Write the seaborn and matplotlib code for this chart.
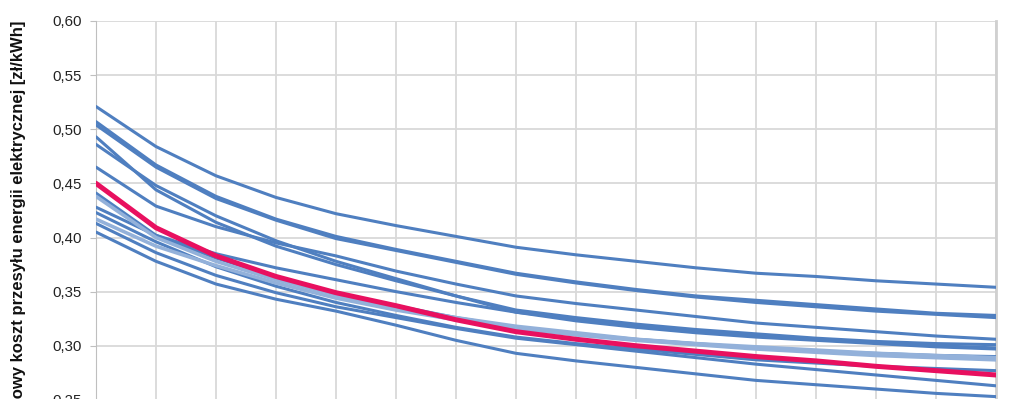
import pandas as pd
import matplotlib
matplotlib.use("Agg")
import matplotlib.pyplot as plt
import seaborn as sns

# lata (os X jest ucieta na obrazku)
lata = [2016, 2017, 2018, 2019, 2020, 2021, 2022, 2023,
        2024, 2025, 2026, 2027, 2028, 2029, 2030, 2031]

# warianty - koszt przesylu [zl/kWh]
w_a = [0.521, 0.484, 0.457, 0.437, 0.422, 0.411, 0.401, 0.391, 0.384, 0.378, 0.372, 0.367, 0.364, 0.360, 0.357, 0.354]
w_b1 = [0.507, 0.467, 0.438, 0.417, 0.401, 0.389, 0.378, 0.367, 0.359, 0.352, 0.346, 0.342, 0.338, 0.334, 0.330, 0.328]
w_b2 = [0.504, 0.465, 0.436, 0.416, 0.399, 0.388, 0.377, 0.366, 0.358, 0.351, 0.345, 0.340, 0.336, 0.332, 0.329, 0.326]
w_c = [0.493, 0.444, 0.414, 0.392, 0.375, 0.360, 0.346, 0.333, 0.326, 0.320, 0.315, 0.311, 0.307, 0.304, 0.302, 0.301]
w_d = [0.486, 0.448, 0.420, 0.397, 0.378, 0.362, 0.346, 0.331, 0.323, 0.317, 0.312, 0.308, 0.305, 0.302, 0.299, 0.297]
w_e = [0.465, 0.429, 0.410, 0.395, 0.383, 0.369, 0.357, 0.346, 0.339, 0.333, 0.327, 0.321, 0.317, 0.313, 0.309, 0.306]
w_f = [0.441, 0.402, 0.381, 0.364, 0.349, 0.337, 0.326, 0.317, 0.311, 0.306, 0.302, 0.298, 0.295, 0.293, 0.291, 0.290]
w_g = [0.428, 0.402, 0.385, 0.372, 0.361, 0.350, 0.340, 0.331, 0.325, 0.319, 0.314, 0.309, 0.306, 0.303, 0.300, 0.298]
w_h = [0.423, 0.396, 0.373, 0.355, 0.340, 0.328, 0.317, 0.308, 0.302, 0.297, 0.292, 0.287, 0.284, 0.281, 0.279, 0.277]
w_i = [0.413, 0.386, 0.365, 0.349, 0.336, 0.326, 0.316, 0.307, 0.301, 0.295, 0.289, 0.283, 0.278, 0.273, 0.268, 0.263]
w_j = [0.405, 0.378, 0.357, 0.343, 0.332, 0.319, 0.305, 0.293, 0.286, 0.280, 0.274, 0.268, 0.264, 0.260, 0.256, 0.253]
w_lt1 = [0.438, 0.400, 0.378, 0.361, 0.347, 0.335, 0.326, 0.318, 0.312, 0.306, 0.302, 0.299, 0.296, 0.293, 0.291, 0.289]
w_lt2 = [0.417, 0.392, 0.374, 0.358, 0.344, 0.333, 0.324, 0.316, 0.310, 0.305, 0.301, 0.297, 0.294, 0.291, 0.289, 0.287]
w_sr = [0.450, 0.409, 0.383, 0.364, 0.349, 0.337, 0.324, 0.313, 0.306, 0.300, 0.295, 0.290, 0.286, 0.281, 0.277, 0.273]

niebieskie = [w_a, w_b1, w_b2, w_c, w_d, w_e, w_f, w_g, w_h, w_i, w_j]
jasne = [w_lt1, w_lt2]

sns.set_style("white")
plt.rcParams['font.family'] = ['Liberation Sans', 'DejaVu Sans']

fig = plt.figure(figsize=(10.24, 3.99), dpi=100)
ax = fig.add_axes([96 / 1024, -55 / 399, 900 / 1024, 433 / 399])

for s in niebieskie:
    sns.lineplot(x=lata, y=s, ax=ax, color='#4F7FC0', lw=2.2, zorder=3)
for s in jasne:
    sns.lineplot(x=lata, y=s, ax=ax, color='#93B1DA', lw=2.6, zorder=4)
sns.lineplot(x=lata, y=w_sr, ax=ax, color='#E8105F', lw=3.6, zorder=5)

ax.set_xlim(lata[0], lata[-1])
ax.set_ylim(0.20, 0.60)
ax.set_xticks(lata)
ax.set_yticks([0.20, 0.25, 0.30, 0.35, 0.40, 0.45, 0.50, 0.55, 0.60])
ax.set_yticklabels([f"{v:.2f}".replace('.', ',') for v in ax.get_yticks()])
ax.grid(True, color='#D9D9D9', lw=1.3)
ax.set_axisbelow(True)
for side in ['top', 'bottom']:
    ax.spines[side].set_visible(False)
ax.spines['left'].set_color('#BFBFBF')
ax.spines['right'].set_color('#D0D0D0')
ax.spines['right'].set_linewidth(2)
ax.tick_params(axis='y', left=True, length=4, color='#BFBFBF', labelsize=10.8,
               labelcolor='#222222', pad=6)
ax.tick_params(axis='x', labelbottom=False, bottom=False)

ax.set_xlabel('')
ax.set_ylabel('Jednostkowy koszt przesyłu energii elektrycznej [zł/kWh]',
              fontsize=12, fontweight='bold', color='#111111')
ax.yaxis.set_label_coords(-70 / 900, 0.48)

fig.savefig("out.png", dpi=100)
